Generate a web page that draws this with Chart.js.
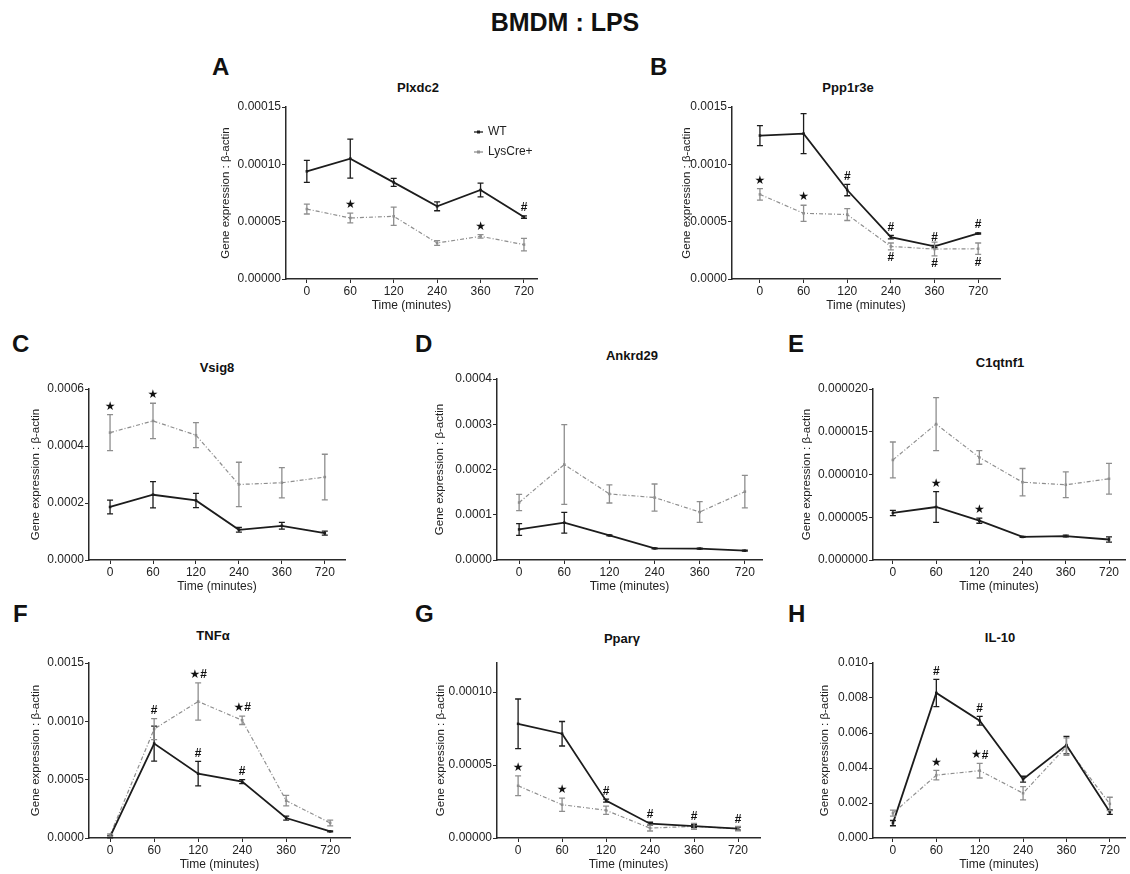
<!DOCTYPE html>
<html lang="en">
<head>
<meta charset="UTF-8">
<title>BMDM : LPS</title>
<style>
    body { margin: 0; background: #fff; font-family: "Liberation Sans", Arial, sans-serif; }
    #page { position: relative; width: 1130px; height: 874px; overflow: hidden; }
    .abs { position: absolute; white-space: nowrap; color: #111; }
    .main-title { left: 0; width: 1130px; top: 7px; text-align: center; font-weight: bold; font-size: 25px; line-height: 30px; }
    .letter { font-weight: bold; font-size: 24px; line-height: 24px; }
    .ptitle { font-weight: bold; font-size: 13px; line-height: 15px; transform: translateX(-50%); }
    canvas { position: absolute; }
</style>
</head>
<body>
<div id="page">
    <div class="abs main-title">BMDM : LPS</div>
</div>

<script src="https://cdn.jsdelivr.net/npm/chart.js@4.4.0/dist/chart.umd.min.js"></script>
<script>
    const timeLabels = ['0', '60', '120', '240', '360', '720'];

    // A - Plxdc2
    const plxdc2Wt = [0.0000939, 0.000105, 0.0000843, 0.0000634, 0.0000776, 0.000054];
    const plxdc2WtSem = [0.0000096, 0.000017, 0.0000035, 0.0000039, 0.000006, 0.000001];
    const plxdc2Lys = [0.000061, 0.0000532, 0.0000547, 0.0000314, 0.0000372, 0.00003];
    const plxdc2LysSem = [0.0000043, 0.0000043, 0.000008, 0.000002, 0.0000015, 0.0000055];
    const plxdc2Marks = [[1, 'lys', '★', 'up'], [4, 'lys', '★', 'up'], [5, 'wt', '#', 'up']];

    // B - Ppp1r3e
    const ppp1r3eWt = [0.001251, 0.001268, 0.000776, 0.000365, 0.000284, 0.000397];
    const ppp1r3eWtSem = [0.000087, 0.000174, 0.00005, 0.000015, 0.00001, 0.000005];
    const ppp1r3eLys = [0.000738, 0.000573, 0.000562, 0.000284, 0.000261, 0.000264];
    const ppp1r3eLysSem = [0.00005, 0.00007, 0.000052, 0.00003, 0.00006, 0.00005];
    const ppp1r3eMarks = [[0, 'lys', '★', 'up'], [1, 'lys', '★', 'up'], [2, 'wt', '#', 'up'],
        [3, 'wt', '#', 'up'], [3, 'lys', '#', 'down'], [4, 'wt', '#', 'up'], [4, 'lys', '#', 'down'],
        [5, 'wt', '#', 'up'], [5, 'lys', '#', 'down']];

    // C - Vsig8
    const vsig8Wt = [0.000186, 0.000229, 0.000209, 0.000106, 0.00012, 0.000094];
    const vsig8WtSem = [0.000024, 0.000046, 0.000025, 0.000008, 0.000012, 0.000007];
    const vsig8Lys = [0.000447, 0.000488, 0.000438, 0.000265, 0.000271, 0.000291];
    const vsig8LysSem = [0.000063, 0.000062, 0.000044, 0.000078, 0.000053, 0.00008];
    const vsig8Marks = [[0, 'lys', '★', 'up'], [1, 'lys', '★', 'up']];

    // D - Ankrd29
    const ankrd29Wt = [0.0000676, 0.0000824, 0.0000544, 0.0000257, 0.000025, 0.0000206];
    const ankrd29WtSem = [0.000013, 0.000023, 0.000001, 0.000001, 0.000001, 0.000001];
    const ankrd29Lys = [0.000127, 0.000211, 0.000146, 0.000138, 0.000106, 0.000151];
    const ankrd29LysSem = [0.000018, 0.000088, 0.00002, 0.00003, 0.000023, 0.000036];
    const ankrd29Marks = [];

    // E - C1qtnf1
    const c1qtnf1Wt = [0.0000055, 0.0000062, 0.0000046, 0.0000027, 0.0000028, 0.0000024];
    const c1qtnf1WtSem = [0.0000003, 0.0000018, 0.0000003, 0.00000005, 0.0000001, 0.0000003];
    const c1qtnf1Lys = [0.0000117, 0.0000159, 0.000012, 0.0000091, 0.0000088, 0.0000095];
    const c1qtnf1LysSem = [0.0000021, 0.0000031, 0.0000008, 0.0000016, 0.0000015, 0.0000018];
    const c1qtnf1Marks = [[1, 'wt', '★', 'up'], [2, 'wt', '★', 'up']];

    // F - TNFa
    const tnfWt = [0.000012, 0.000809, 0.000551, 0.000483, 0.000171, 0.000057];
    const tnfWtSem = [0.00001, 0.00015, 0.000105, 0.000017, 0.000017, 0.000004];
    const tnfLys = [0.000025, 0.000934, 0.00117, 0.001009, 0.00032, 0.000129];
    const tnfLysSem = [0.00001, 0.00009, 0.00016, 0.000036, 0.000045, 0.000025];
    const tnfMarks = [[1, 'lys', '#', 'up'], [2, 'lys', '★#', 'up'], [3, 'lys', '★#', 'up'],
        [2, 'wt', '#', 'up'], [3, 'wt', '#', 'up']];

    // G - Ppar gamma
    const pparWt = [0.0000783, 0.0000715, 0.0000256, 0.0000098, 0.0000082, 0.0000064];
    const pparWtSem = [0.000017, 0.0000084, 0.000001, 0.000001, 0.000001, 0.000001];
    const pparLys = [0.0000358, 0.0000228, 0.000019, 0.0000068, 0.000008, 0.0000064];
    const pparLysSem = [0.0000068, 0.0000045, 0.0000028, 0.000002, 0.000002, 0.0000015];
    const pparMarks = [[0, 'lys', '★', 'up'], [1, 'lys', '★', 'up'], [2, 'wt', '#', 'up'],
        [3, 'wt', '#', 'up'], [4, 'wt', '#', 'up'], [5, 'wt', '#', 'up']];

    // H - IL-10
    const il10Wt = [0.00085, 0.00829, 0.0067, 0.00336, 0.00531, 0.00148];
    const il10WtSem = [0.00015, 0.00078, 0.00025, 0.00017, 0.0005, 0.00013];
    const il10Lys = [0.00142, 0.00359, 0.00385, 0.00256, 0.00522, 0.00195];
    const il10LysSem = [0.00017, 0.00027, 0.00042, 0.00038, 0.0005, 0.00038];
    const il10Marks = [[1, 'wt', '#', 'up'], [2, 'wt', '#', 'up'], [1, 'lys', '★', 'up'], [2, 'lys', '★#', 'up']];

    const WT_COLOR = '#1c1c1c';
    const LYS_COLOR = '#8e8e8e';
    const AXIS_COLOR = '#2a2a2a';
    const TEXT_COLOR = '#222';
    const FONT = '"Liberation Sans", Arial, sans-serif';

    // layout: chart area box on the page (axis = left edge), y title offset, x range
    const panels = [
        {letter: 'A', title: 'Plxdc2', wt: plxdc2Wt, wtSem: plxdc2WtSem, lys: plxdc2Lys, lysSem: plxdc2LysSem, marks: plxdc2Marks,
         yMax: 0.00015, yStep: 0.00005, digits: 5, legend: true,
         box: {axis: 286, top: 107, bottom: 279, right: 537, yTitle: 60, xMin: -0.48, xMax: 5.3},
         letterPos: [212, 55], titlePos: [418, 80]},
        {letter: 'B', title: 'Ppp1r3e', wt: ppp1r3eWt, wtSem: ppp1r3eWtSem, lys: ppp1r3eLys, lysSem: ppp1r3eLysSem, marks: ppp1r3eMarks,
         yMax: 0.0015, yStep: 0.0005, digits: 4,
         box: {axis: 732, top: 107, bottom: 279, right: 1000, yTitle: 45, xMin: -0.64, xMax: 5.5},
         letterPos: [650, 55], titlePos: [848, 80]},
        {letter: 'C', title: 'Vsig8', wt: vsig8Wt, wtSem: vsig8WtSem, lys: vsig8Lys, lysSem: vsig8LysSem, marks: vsig8Marks,
         yMax: 0.0006, yStep: 0.0002, digits: 4,
         box: {axis: 89, top: 389, bottom: 560, right: 345, yTitle: 53, xMin: -0.49, xMax: 5.47},
         letterPos: [12, 332], titlePos: [217, 360]},
        {letter: 'D', title: 'Ankrd29', wt: ankrd29Wt, wtSem: ankrd29WtSem, lys: ankrd29Lys, lysSem: ankrd29LysSem, marks: ankrd29Marks,
         yMax: 0.0004, yStep: 0.0001, digits: 4,
         box: {axis: 497, top: 379, bottom: 560, right: 762, yTitle: 57, xMin: -0.49, xMax: 5.38},
         letterPos: [415, 332], titlePos: [632, 348]},
        {letter: 'E', title: 'C1qtnf1', wt: c1qtnf1Wt, wtSem: c1qtnf1WtSem, lys: c1qtnf1Lys, lysSem: c1qtnf1LysSem, marks: c1qtnf1Marks,
         yMax: 0.00002, yStep: 0.000005, digits: 6,
         box: {axis: 873, top: 389, bottom: 560, right: 1125, yTitle: 66, xMin: -0.46, xMax: 5.37},
         letterPos: [788, 332], titlePos: [1000, 355]},
        {letter: 'F', title: 'TNFα', wt: tnfWt, wtSem: tnfWtSem, lys: tnfLys, lysSem: tnfLysSem, marks: tnfMarks,
         yMax: 0.0015, yStep: 0.0005, digits: 4,
         box: {axis: 89, top: 663, bottom: 838, right: 350, yTitle: 53, xMin: -0.48, xMax: 5.45},
         letterPos: [13, 602], titlePos: [213, 628]},
        {letter: 'G', title: 'Pparγ', wt: pparWt, wtSem: pparWtSem, lys: pparLys, lysSem: pparLysSem, marks: pparMarks,
         yMax: 0.00012, yStep: 0.00005, digits: 5,
         box: {axis: 497, top: 663, bottom: 838, right: 760, yTitle: 56, xMin: -0.48, xMax: 5.5},
         letterPos: [415, 602], titlePos: [622, 631]},
        {letter: 'H', title: 'IL-10', wt: il10Wt, wtSem: il10WtSem, lys: il10Lys, lysSem: il10LysSem, marks: il10Marks,
         yMax: 0.010, yStep: 0.002, digits: 3,
         box: {axis: 873, top: 663, bottom: 838, right: 1125, yTitle: 48, xMin: -0.46, xMax: 5.35},
         letterPos: [788, 602], titlePos: [1000, 630]}
    ];

    const errorBars = {
        id: 'errorBars',
        afterDatasetsDraw(chart) {
            const {ctx, scales: {x, y}} = chart;
            chart.data.datasets.forEach(ds => {
                ctx.save();
                ctx.strokeStyle = ds.borderColor;
                ctx.lineWidth = 1.3;
                ds.data.forEach((pt, i) => {
                    const e = ds.sem[i];
                    const px = x.getPixelForValue(pt.x);
                    const top = y.getPixelForValue(pt.y + e);
                    const bot = y.getPixelForValue(Math.max(pt.y - e, 0));
                    ctx.beginPath();
                    ctx.moveTo(px, top); ctx.lineTo(px, bot);
                    ctx.moveTo(px - 3, top); ctx.lineTo(px + 3, top);
                    ctx.moveTo(px - 3, bot); ctx.lineTo(px + 3, bot);
                    ctx.stroke();
                });
                ctx.restore();
            });
        }
    };

    const STAR_FONT = '12px "DejaVu Sans", sans-serif';
    const HASH_FONT = 'bold 12px ' + FONT;

    function makeMarksPlugin(marks) {
        return {
            id: 'sigMarks',
            afterDraw(chart) {
                const {ctx, scales: {x, y}} = chart;
                ctx.save();
                ctx.fillStyle = '#111';
                ctx.textAlign = 'left';
                ctx.textBaseline = 'middle';
                for (const [i, who, text, side] of marks) {
                    const ds = chart.data.datasets[who === 'wt' ? 0 : 1];
                    const v = ds.data[i].y, e = ds.sem[i];
                    const px = x.getPixelForValue(i);
                    const py = side === 'down' ? y.getPixelForValue(v - e) + 8 : y.getPixelForValue(v + e) - 8;
                    const chars = [...text];
                    const widths = chars.map(c => {
                        ctx.font = c === '★' ? STAR_FONT : HASH_FONT;
                        return ctx.measureText(c).width;
                    });
                    let cx = px - widths.reduce((a, b) => a + b, 0) / 2;
                    chars.forEach((c, k) => {
                        ctx.font = c === '★' ? STAR_FONT : HASH_FONT;
                        ctx.fillText(c, cx, py);
                        cx += widths[k];
                    });
                }
                ctx.restore();
            }
        };
    }

    const insideLegend = {
        id: 'insideLegend',
        afterDraw(chart) {
            const {ctx, chartArea} = chart;
            ctx.save();
            ctx.font = '12px ' + FONT;
            ctx.textBaseline = 'middle';
            chart.data.datasets.forEach((ds, k) => {
                const lx = chartArea.left + 188;
                const ly = chartArea.top + 25 + k * 20;
                ctx.strokeStyle = ds.borderColor;
                ctx.lineWidth = 1.3;
                ctx.beginPath();
                ctx.moveTo(lx, ly); ctx.lineTo(lx + 9, ly);
                ctx.stroke();
                ctx.fillStyle = ds.borderColor;
                ctx.fillRect(lx + 3, ly - 1.5, 3, 3);
                ctx.fillStyle = TEXT_COLOR;
                ctx.fillText(ds.label, lx + 14, ly);
            });
            ctx.restore();
        }
    };

    const page = document.getElementById('page');

    function addText(cls, text, left, top) {
        const d = document.createElement('div');
        d.className = 'abs ' + cls;
        d.textContent = text;
        d.style.left = left + 'px';
        d.style.top = top + 'px';
        page.appendChild(d);
    }

    function addPanel(p) {
        const b = p.box;
        const padTop = 10, padRight = 8, xh = 38;
        const yw = b.yTitle + 11;
        const w = yw + (b.right - b.axis) + padRight;
        const h = padTop + (b.bottom - b.top) + xh + 2;

        const canvas = document.createElement('canvas');
        canvas.width = w;
        canvas.height = h;
        canvas.style.left = (b.axis - yw) + 'px';
        canvas.style.top = (b.top - padTop) + 'px';
        canvas.style.width = w + 'px';
        canvas.style.height = h + 'px';
        page.appendChild(canvas);

        addText('letter', p.letter, p.letterPos[0], p.letterPos[1]);
        addText('ptitle', p.title, p.titlePos[0], p.titlePos[1]);

        const plugins = [errorBars, makeMarksPlugin(p.marks)];
        if (p.legend) plugins.push(insideLegend);

        new Chart(canvas, {
            type: 'line',
            data: {
                datasets: [{
                    label: 'WT',
                    data: p.wt.map((v, i) => ({x: i, y: v})),
                    sem: p.wtSem,
                    borderColor: WT_COLOR,
                    backgroundColor: WT_COLOR,
                    borderWidth: 1.8,
                    pointStyle: 'rect',
                    pointRadius: 1.8,
                    pointBorderWidth: 0
                }, {
                    label: 'LysCre+',
                    data: p.lys.map((v, i) => ({x: i, y: v})),
                    sem: p.lysSem,
                    borderColor: LYS_COLOR,
                    backgroundColor: LYS_COLOR,
                    borderWidth: 1.2,
                    borderDash: [4, 2, 1, 2],
                    pointStyle: 'rect',
                    pointRadius: 1.8,
                    pointBorderWidth: 0
                }]
            },
            options: {
                responsive: false,
                animation: false,
                devicePixelRatio: 1,
                layout: {padding: {top: padTop, right: padRight, left: 0, bottom: 2}},
                plugins: {
                    legend: {display: false},
                    tooltip: {enabled: false},
                    title: {display: false}
                },
                scales: {
                    x: {
                        type: 'linear',
                        min: b.xMin,
                        max: b.xMax,
                        afterBuildTicks: s => { s.ticks = timeLabels.map((_, i) => ({value: i})); },
                        afterFit: s => { s.height = xh; },
                        grid: {drawOnChartArea: false, tickLength: 4, color: AXIS_COLOR},
                        border: {color: AXIS_COLOR, width: 1.5},
                        ticks: {
                            callback: v => timeLabels[v],
                            font: {family: FONT, size: 12},
                            color: TEXT_COLOR,
                            padding: 1,
                            maxRotation: 0,
                            autoSkip: false
                        },
                        title: {
                            display: true,
                            text: 'Time (minutes)',
                            font: {family: FONT, size: 12},
                            color: TEXT_COLOR,
                            padding: {top: 0, bottom: 4}
                        }
                    },
                    y: {
                        min: 0,
                        max: p.yMax,
                        afterFit: s => { s.width = yw; },
                        grid: {drawOnChartArea: false, tickLength: 4, color: AXIS_COLOR},
                        border: {color: AXIS_COLOR, width: 1.5},
                        ticks: {
                            stepSize: p.yStep,
                            includeBounds: false,
                            callback: v => v.toFixed(p.digits),
                            font: {family: FONT, size: 12},
                            color: TEXT_COLOR,
                            padding: 1
                        },
                        title: {
                            display: true,
                            text: 'Gene expression : β-actin',
                            font: {family: FONT, size: 11.5},
                            color: TEXT_COLOR,
                            padding: {top: 4, bottom: 0}
                        }
                    }
                }
            },
            plugins: plugins
        });
    }

    panels.forEach(addPanel);
</script>
</body>
</html>
